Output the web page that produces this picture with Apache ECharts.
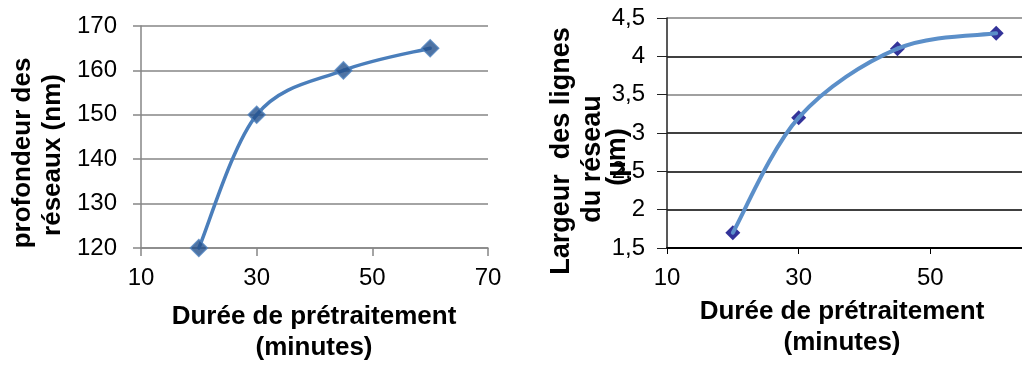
<!DOCTYPE html>
<html>
<head>
<meta charset="utf-8">
<script src="https://cdn.jsdelivr.net/npm/echarts@6/dist/echarts.min.js"></script>
<style>
html,body{margin:0;padding:0;background:#fff;}
#chart{width:1022px;height:365px;}
</style>
</head>
<body>
<div id="chart"></div>
<script>
// Data
const durations = [20, 30, 45, 60];
const depthNm = [120, 150, 160, 165];
const lineWidthUm = [1.7, 3.2, 4.1, 4.3];
const xTitleLines = ['Durée de prétraitement', '(minutes)'];
const leftYTitleLines = ['profondeur des', 'réseaux (nm)'];
const rightYTitleLines = ['Largeur  des lignes', 'du réseau', '(µm)'];

const FONT = "'Liberation Sans', Arial, sans-serif";
const pts = (xs, ys) => xs.map((x, i) => [x, ys[i]]);

const chart = echarts.init(document.getElementById('chart'), null, {renderer: 'canvas'});

function txt(text, x, y, size, rot) {
  return {
    type: 'text', x: x, y: y, rotation: rot || 0,
    style: {text: text, fontFamily: FONT, fontWeight: 'bold', fontSize: size, fill: '#000',
            align: 'center', verticalAlign: 'middle'}
  };
}

// Smoothed line (Catmull-Rom style Bezier, like spreadsheet smoothing), built from the axis scales
function smoothRenderer(xs, ys, color, width) {
  return function (params, api) {
    const n = xs.length, i = params.dataIndex;
    if (i >= n - 1) return null;
    const cl = k => Math.max(0, Math.min(n - 1, k));
    const P = k => api.coord([xs[cl(k)], ys[cl(k)]]);
    const p0 = P(i - 1), p1 = P(i), p2 = P(i + 1), p3 = P(i + 2);
    return {
      type: 'bezierCurve',
      shape: {
        x1: p1[0], y1: p1[1], x2: p2[0], y2: p2[1],
        cpx1: p1[0] + (p2[0] - p0[0]) / 6, cpy1: p1[1] + (p2[1] - p0[1]) / 6,
        cpx2: p2[0] - (p3[0] - p1[0]) / 6, cpy2: p2[1] - (p3[1] - p1[1]) / 6
      },
      style: {stroke: color, lineWidth: width, fill: 'none', lineCap: 'round'}
    };
  };
}

chart.setOption({
  animation: false,
  backgroundColor: '#fff',
  grid: [
    {left: 141, width: 347, top: 26, height: 222, outerBoundsMode: 'none', containLabel: false},
    {left: 667, width: 395, top: 18, height: 230, outerBoundsMode: 'none', containLabel: false}
  ],
  xAxis: [
    {
      gridIndex: 0, type: 'value', min: 10, max: 70, interval: 20,
      axisLine: {show: true, lineStyle: {color: '#868686', width: 1.5}},
      axisTick: {show: true, length: 8, lineStyle: {color: '#868686', width: 1.5}},
      axisLabel: {margin: 18, fontFamily: FONT, fontSize: 24, color: '#000'},
      splitLine: {show: false}
    },
    {
      gridIndex: 1, type: 'value', min: 10, max: 70, interval: 20,
      axisLine: {show: true, lineStyle: {color: '#000', width: 2}},
      axisTick: {show: true, length: 6, lineStyle: {color: '#000', width: 1}},
      axisLabel: {margin: 18, fontFamily: FONT, fontSize: 24, color: '#000'},
      splitLine: {show: false}
    }
  ],
  yAxis: [
    {
      gridIndex: 0, type: 'value', min: 120, max: 170, interval: 10,
      axisLine: {show: true, lineStyle: {color: '#868686', width: 1.5}},
      axisTick: {show: true, length: 8, lineStyle: {color: '#868686', width: 1.5}},
      axisLabel: {margin: 24, fontFamily: FONT, fontSize: 24, color: '#000'},
      splitLine: {show: true, lineStyle: {color: '#868686', width: 1.5}}
    },
    {
      gridIndex: 1, type: 'value', min: 1.5, max: 4.5, interval: 0.5,
      axisLine: {show: true, lineStyle: {color: '#222', width: 1.5}},
      axisTick: {show: true, length: 10, lineStyle: {color: '#222', width: 1}},
      axisLabel: {margin: 22, fontFamily: FONT, fontSize: 24, color: '#000',
                  formatter: v => String(v).replace('.', ',')},
      splitLine: {show: true, lineStyle: {color: ['#222', '#000', '#000', '#000', '#808080', '#000', '#808080'], width: 1.5}}
    }
  ],
  series: [
    {
      type: 'custom', xAxisIndex: 0, yAxisIndex: 0, data: pts(durations, depthNm),
      encode: {x: 0, y: 1}, renderItem: smoothRenderer(durations, depthNm, '#4a7ebb', 3.5), z: 2
    },
    {
      type: 'scatter', xAxisIndex: 0, yAxisIndex: 0, data: pts(durations, depthNm),
      symbol: 'diamond', symbolSize: 17,
      itemStyle: {color: '#23508c', borderColor: '#4f81bd', borderWidth: 1.5}, z: 3
    },
    {
      type: 'scatter', xAxisIndex: 1, yAxisIndex: 1, data: pts(durations, lineWidthUm),
      symbol: 'diamond', symbolSize: 15,
      itemStyle: {color: '#000080'}, z: 2
    },
    {
      type: 'custom', xAxisIndex: 1, yAxisIndex: 1, data: pts(durations, lineWidthUm),
      encode: {x: 0, y: 1}, renderItem: smoothRenderer(durations, lineWidthUm, '#5b8fc9', 4), z: 3
    }
  ],
  graphic: [
    txt(xTitleLines[0], 314, 317, 26),
    txt(xTitleLines[1], 314, 348, 26),
    txt(xTitleLines[0], 842, 312, 26),
    txt(xTitleLines[1], 842, 343, 26),
    txt(leftYTitleLines[0], 23, 153, 26, Math.PI / 2),
    txt(leftYTitleLines[1], 53, 155, 26, Math.PI / 2),
    txt(rightYTitleLines[0], 562, 151, 27, Math.PI / 2),
    txt(rightYTitleLines[1], 593, 159, 27, Math.PI / 2),
    txt(rightYTitleLines[2], 618, 157, 27, Math.PI / 2)
  ]
});
</script>
</body>
</html>
